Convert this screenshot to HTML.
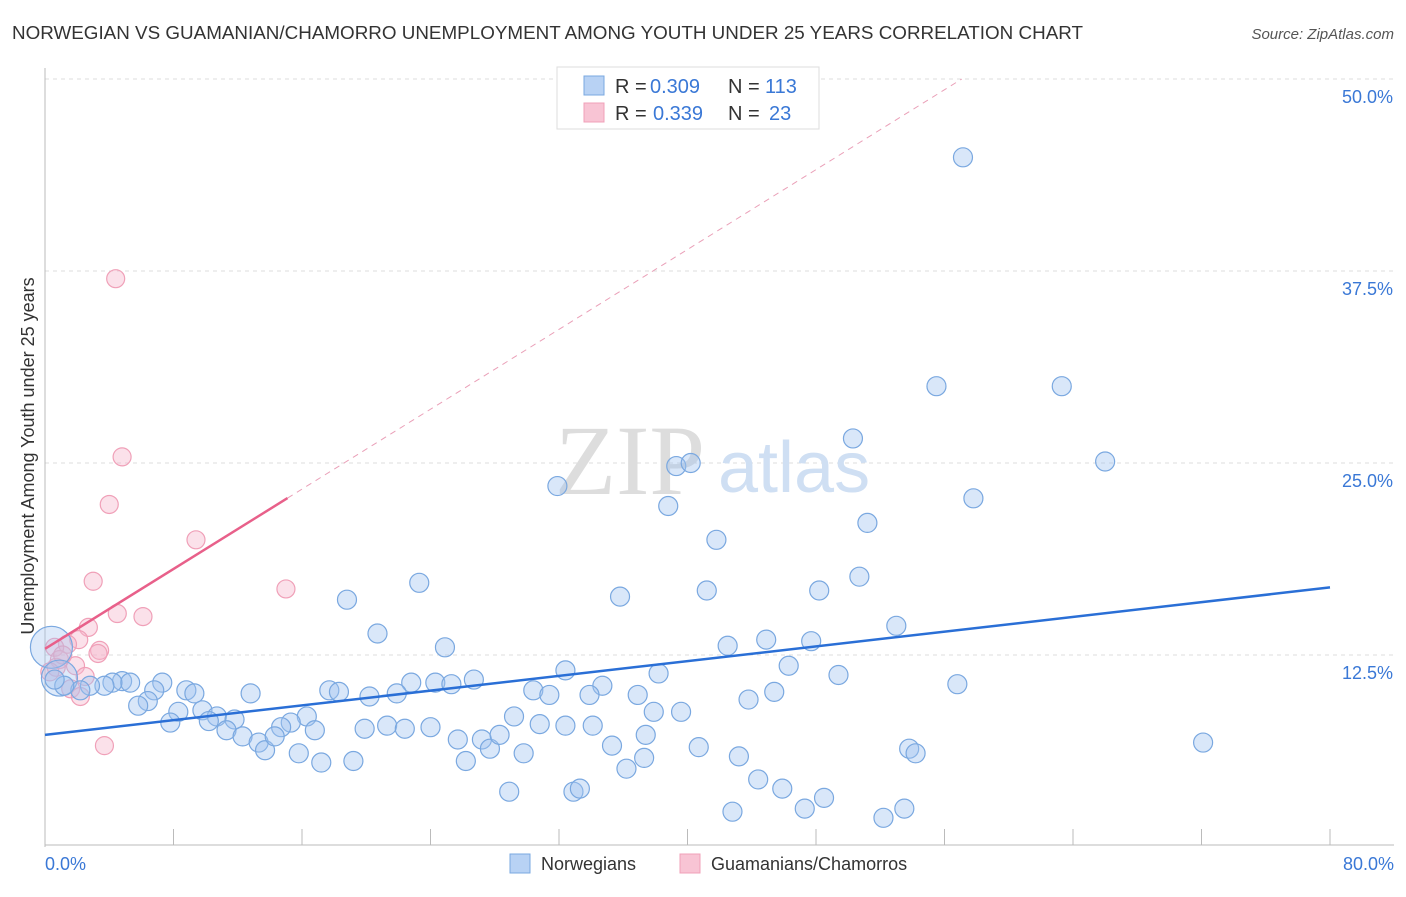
<!DOCTYPE html>
<html><head><meta charset="utf-8"><style>
body{margin:0;background:#fff;font-family:"Liberation Sans",sans-serif;}
</style></head><body>
<svg id="chart" width="1406" height="892" xmlns="http://www.w3.org/2000/svg" font-family="Liberation Sans, sans-serif">
<text x="12" y="39" font-size="18" fill="#333" textLength="1071" lengthAdjust="spacingAndGlyphs">NORWEGIAN VS GUAMANIAN/CHAMORRO UNEMPLOYMENT AMONG YOUTH UNDER 25 YEARS CORRELATION CHART</text>
<text x="1394" y="39" font-size="15" fill="#555" text-anchor="end" font-style="italic">Source: ZipAtlas.com</text>
<g id="grid"></g>
<text x="555" y="494" font-size="100" fill="#ddd" font-family="Liberation Serif, serif">ZIP</text>
<text x="718" y="492" font-size="72" fill="#cfdff3">atlas</text>
<g id="axes"></g>
<g id="marks"></g>
<text transform="translate(34,456) rotate(-90)" font-size="18" fill="#333" text-anchor="middle">Unemployment Among Youth under 25 years</text>
<g>
<rect x="557" y="67" width="262" height="62" fill="#fff" stroke="#ddd"/>
<rect x="584" y="76" width="20" height="19" fill="#b8d2f4" stroke="#7aa8e0"/>
<rect x="584" y="103" width="20" height="19" fill="#f8c4d4" stroke="#f0a0b8"/>
<text x="615" y="93" font-size="20" fill="#333">R =</text>
<text x="650" y="93" font-size="20" fill="#3a78d6">0.309</text>
<text x="728" y="93" font-size="20" fill="#333">N =</text>
<text x="765" y="93" font-size="20" fill="#3a78d6">113</text>
<text x="615" y="120" font-size="20" fill="#333">R =</text>
<text x="653" y="120" font-size="20" fill="#3a78d6">0.339</text>
<text x="728" y="120" font-size="20" fill="#333">N =</text>
<text x="769" y="120" font-size="20" fill="#3a78d6">23</text>
</g>
<g>
<rect x="510" y="854" width="20" height="19" fill="#b8d2f4" stroke="#7aa8e0"/>
<text x="541" y="870" font-size="18" fill="#333">Norwegians</text>
<rect x="680" y="854" width="20" height="19" fill="#f8c4d4" stroke="#f0a0b8"/>
<text x="711" y="870" font-size="18" fill="#333">Guamanians/Chamorros</text>
</g>
</svg>
<script>
const yTicks=[12.5,25.0,37.5,50.0];
const yTickLabels=["12.5%","25.0%","37.5%","50.0%"];
const xTickLabels=["0.0%","80.0%"];
const blueX=[57.15,55.5,63.3,50.3,66.0,39.3,40.2,31.9,57.8,38.8,51.2,41.8,50.7,23.3,35.8,41.2,48.2,18.8,20.7,53.0,44.9,47.7,24.9,42.5,32.4,38.2,46.3,49.4,56.8,34.7,22.8,24.3,25.3,26.7,30.4,31.4,33.9,36.9,17.7,18.3,20.2,21.9,45.4,43.8,12.8,8.8,9.3,7.3,6.8,4.8,5.3,4.2,3.7,2.8,2.2,1.2,0.6,6.4,5.8,8.3,9.8,10.7,11.8,16.3,15.3,16.8,14.7,10.2,7.8,11.3,12.3,13.3,13.7,14.3,15.8,17.2,19.2,19.9,21.3,22.4,24.0,25.7,26.2,27.2,27.7,28.3,29.2,30.8,32.4,29.8,34.1,35.3,37.4,37.9,39.6,40.7,43.2,36.2,37.3,28.9,32.9,33.3,44.4,45.9,48.5,42.8,47.3,52.2,53.5,53.8,54.2,72.1];
const blueY=[44.9,30.0,30.0,26.6,25.1,24.8,25.0,23.5,22.7,22.2,21.1,20.0,17.6,17.2,16.3,16.7,16.7,16.1,13.9,14.4,13.5,13.4,13.0,13.1,11.5,11.3,11.8,11.2,10.6,10.5,10.7,10.7,10.6,10.9,10.2,9.9,9.9,9.9,10.2,10.1,9.8,10.0,10.1,9.6,10.0,10.2,10.0,10.7,10.2,10.8,10.7,10.7,10.5,10.5,10.2,10.5,10.9,9.5,9.2,8.8,8.9,8.5,8.3,8.5,8.1,7.6,7.8,8.2,8.1,7.6,7.2,6.8,6.3,7.2,6.1,5.5,5.6,7.7,7.9,7.7,7.8,7.0,5.6,7.0,6.4,7.3,8.5,8.0,7.9,6.1,7.9,6.6,7.3,8.8,8.8,6.5,5.9,5.1,5.8,3.6,3.6,3.8,4.4,3.8,3.2,2.3,2.5,1.9,2.5,6.4,6.1,6.8];
const bigBlueX=[0.4,0.9];
const bigBlueY=[13.0,11.0];
const pinkX=[4.4,4.8,4.0,9.4,3.0,15.0,4.5,6.1,2.7,2.1,1.4,3.4,3.3,0.6,0.9,1.9,0.7,2.5,1.6,2.2,3.7,0.3,1.1];
const pinkY=[37.0,25.4,22.3,20.0,17.3,16.8,15.2,15.0,14.3,13.5,13.2,12.8,12.6,13.0,12.2,11.8,11.7,11.1,10.3,9.8,6.6,11.4,12.5];
const blueTrend=[7.3,16.9];
const pinkTrend=[12.9,0.65];

const NS="http://www.w3.org/2000/svg";
const X0=45,X1=1330,YB=847,YPER=15.36;
function sx(v){return X0+v/80*(X1-X0);}
function sy(v){return YB-v*YPER;}
function mk(tag,attrs,parent){const e=document.createElementNS(NS,tag);for(const k in attrs)e.setAttribute(k,attrs[k]);document.getElementById(parent).appendChild(e);return e;}

yTicks.forEach((t,i)=>{
  const l=mk('line',{x1:X0,x2:1394,y1:sy(t),y2:sy(t),stroke:'#ddd','stroke-dasharray':'4,4'},'grid');
  
  
  const tx=mk('text',{x:1393,y:sy(t)+24,'font-size':18,fill:'#3a78d6','text-anchor':'end'},'grid');
  tx.textContent=yTickLabels[i];
  
  
});
let ax=mk('line',{x1:X0,x2:X0,y1:68,y2:YB,stroke:'#bbb'},'axes');


ax=mk('line',{x1:X0,x2:1394,y1:YB-2,y2:YB-2,stroke:'#bbb'},'axes');


for(let i=1;i<=10;i++){
  const t=mk('line',{x1:sx(i*8),x2:sx(i*8),y1:YB-2,y2:YB-18,stroke:'#bbb'},'axes');
  
  
}
[[0,'start',45],[80,'end',1394]].forEach((p,i)=>{
  const tx=mk('text',{x:p[2],y:870,'font-size':18,fill:'#3a78d6','text-anchor':p[1]},'axes');
  tx.textContent=xTickLabels[i];
  
  
});
pinkX.forEach((x,i)=>{
  const c=mk('circle',{cx:sx(x),cy:sy(pinkY[i]),r:9,fill:'rgba(246,180,202,0.4)',stroke:'#f0a0b8','stroke-width':1.2},'marks');
  
  
});
bigBlueX.forEach((x,i)=>{
  const c=mk('circle',{cx:sx(x),cy:sy(bigBlueY[i]),r:i==0?21:18,fill:'rgba(160,196,240,0.35)',stroke:'#7aa8e0','stroke-width':1.2},'marks');
  
  
});
blueX.forEach((x,i)=>{
  const c=mk('circle',{cx:sx(x),cy:sy(blueY[i]),r:9.5,fill:'rgba(160,196,240,0.4)',stroke:'#7aa8e0','stroke-width':1.2},'marks');
  
  
});
let ln=mk('line',{x1:sx(0),y1:sy(blueTrend[0]),x2:sx(80),y2:sy(blueTrend[1]),stroke:'#2a6fd6','stroke-width':2.5},'marks');


const pEnd=15.1, pDash=(50-pinkTrend[0])/pinkTrend[1];
ln=mk('line',{x1:sx(0),y1:sy(pinkTrend[0]),x2:sx(pEnd),y2:sy(pinkTrend[0]+pinkTrend[1]*pEnd),stroke:'#e8608a','stroke-width':2.5},'marks');


ln=mk('line',{x1:sx(pEnd),y1:sy(pinkTrend[0]+pinkTrend[1]*pEnd),x2:sx(pDash),y2:sy(50),stroke:'#eaa0b8','stroke-width':1,'stroke-dasharray':'6,5'},'marks');


</script>
</body></html>
